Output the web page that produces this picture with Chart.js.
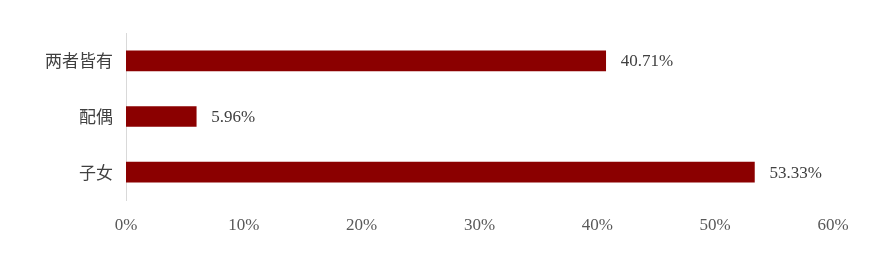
<!DOCTYPE html>
<html>
<head>
<meta charset="utf-8">
<script src="https://cdn.jsdelivr.net/npm/chart.js@4/dist/chart.umd.min.js"></script>
<style>
    html, body { margin: 0; padding: 0; background: #ffffff; }
    #wrap { width: 884px; height: 258px; position: relative; }
</style>
</head>
<body>
<div id="wrap"><canvas id="barChart"></canvas></div>
<script>
// Chart data
var categories = ['两者皆有', '配偶', '子女'];
var shares = [40.71, 5.96, 53.33];
var tickValues = [0, 10, 20, 30, 40, 50, 60];

var serifFont = '"Liberation Serif", "DejaVu Serif", serif';

// Draw value labels to the right of each bar
var valueLabels = {
    id: 'valueLabels',
    afterDatasetsDraw: function(chart) {
        var ctx = chart.ctx;
        var meta = chart.getDatasetMeta(0);
        ctx.save();
        ctx.font = '17px ' + serifFont;
        ctx.fillStyle = '#404040';
        ctx.textAlign = 'left';
        ctx.textBaseline = 'middle';
        meta.data.forEach(function(bar, i) {
            ctx.fillText(shares[i].toFixed(2) + '%', bar.x + 15, bar.y + 1);
        });
        ctx.restore();
    }
};

var ctx = document.getElementById('barChart').getContext('2d');
new Chart(ctx, {
    type: 'bar',
    data: {
        labels: categories,
        datasets: [{
            data: shares,
            backgroundColor: '#8B0000',
            borderWidth: 0,
            barThickness: 20
        }]
    },
    options: {
        indexAxis: 'y',
        responsive: true,
        maintainAspectRatio: false,
        animation: false,
        layout: { padding: { left: 0, right: 51, top: 33, bottom: 0 } },
        plugins: {
            legend: { display: false },
            tooltip: { enabled: false }
        },
        scales: {
            x: {
                min: 0,
                max: 60,
                afterBuildTicks: function(scale) {
                    scale.ticks = tickValues.map(function(v) { return { value: v }; });
                },
                afterFit: function(scale) { scale.height = 58; },
                grid: { display: false, drawTicks: false },
                border: { display: false },
                ticks: {
                    padding: 15,
                    color: '#595959',
                    font: { family: serifFont, size: 17 },
                    callback: function(v) { return v + '%'; }
                }
            },
            y: {
                afterFit: function(scale) { scale.width = 126; },
                grid: { display: false, drawTicks: false },
                border: { display: true, color: '#d9d9d9', width: 1 },
                ticks: {
                    padding: 13,
                    color: '#404040',
                    font: { family: '"Noto Sans CJK SC", sans-serif', size: 17 }
                }
            }
        }
    },
    plugins: [valueLabels]
});
</script>
</body>
</html>
